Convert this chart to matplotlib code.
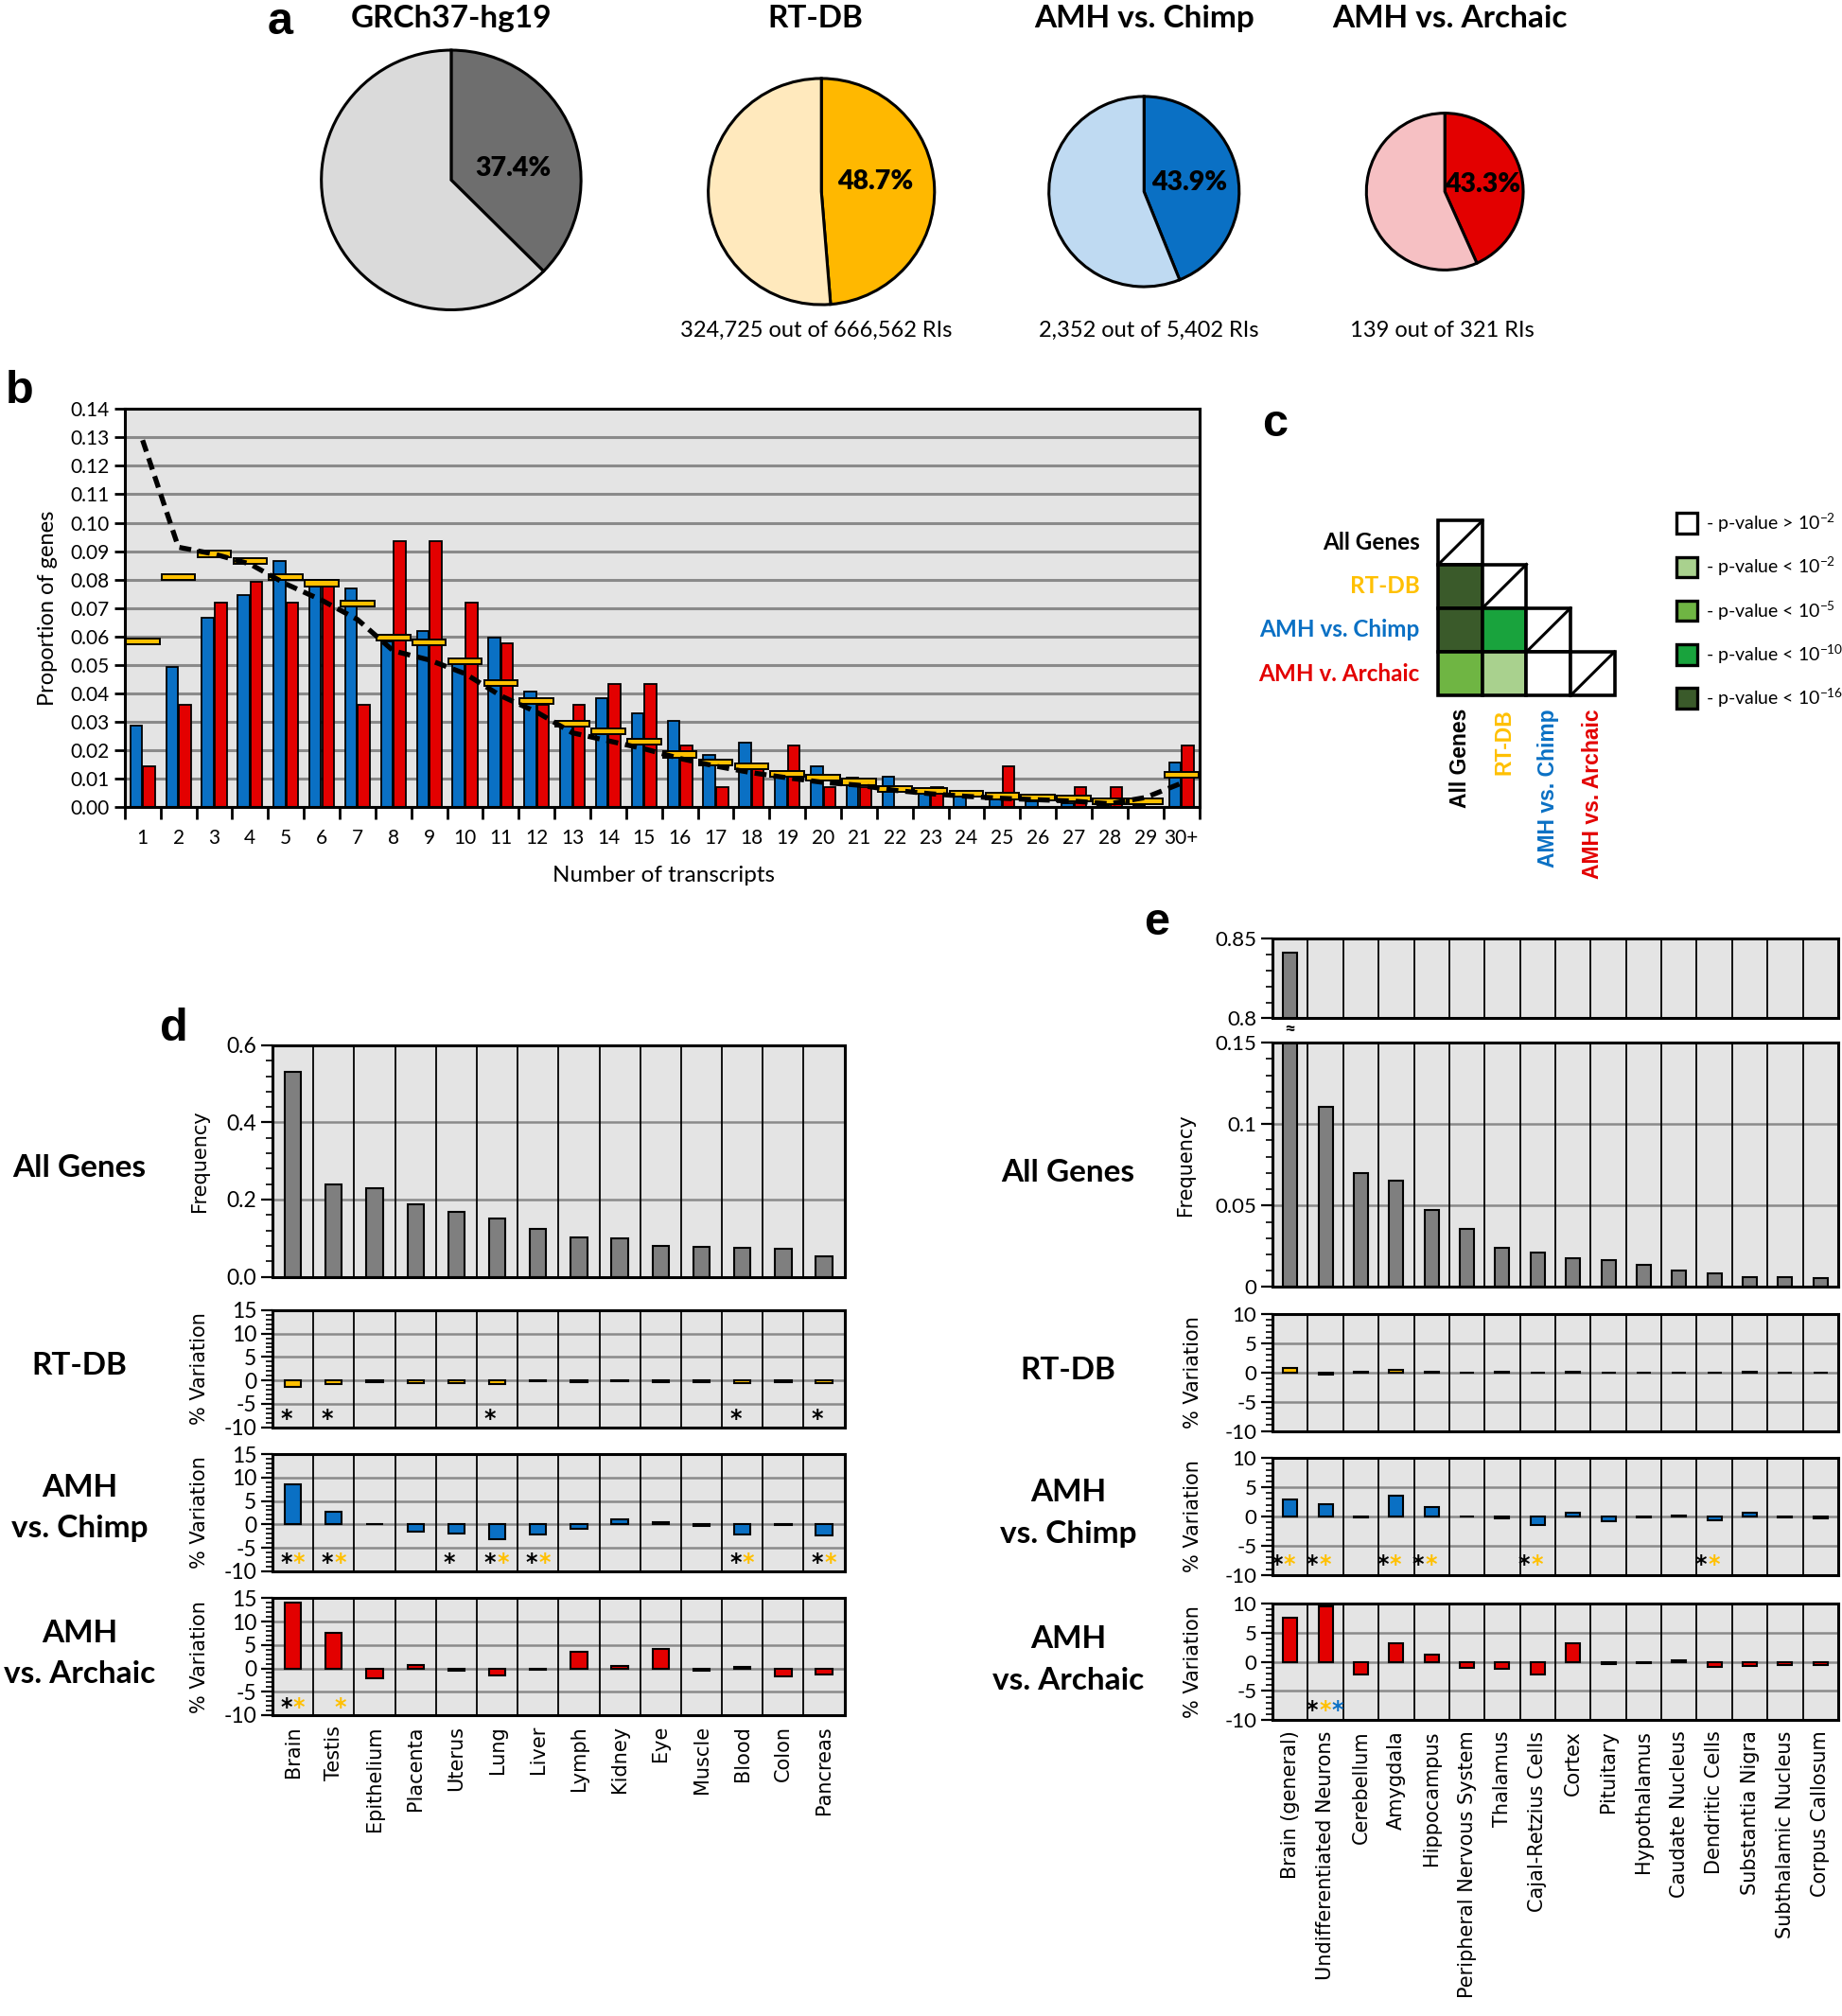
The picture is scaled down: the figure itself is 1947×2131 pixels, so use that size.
import matplotlib
matplotlib.use("Agg")
import matplotlib.pyplot as plt
import numpy as np
from matplotlib.patches import Rectangle
from matplotlib.ticker import FixedLocator, MultipleLocator

plt.rcParams['font.family'] = ['Lato', 'DejaVu Sans']
plt.rcParams['mathtext.default'] = 'regular'
plt.rcParams['axes.unicode_minus'] = False

# ---------------- data ----------------
# panel a
pie_titles = ['GRCh37-hg19', 'RT-DB', 'AMH vs. Chimp', 'AMH vs. Archaic']
pie_pct = [37.4, 48.7, 43.9, 43.3]
pie_notes = ['', '324,725 out of 666,562 RIs', '2,352 out of 5,402 RIs', '139 out of 321 RIs']

# panel b
n_transcripts = [str(i) for i in range(1, 30)] + ['30+']
all_genes_b = [0.129, 0.0914, 0.089, 0.0855, 0.0785, 0.0728, 0.0660, 0.0550, 0.0518, 0.0470,
               0.0392, 0.0335, 0.0262, 0.0234, 0.0206, 0.0172, 0.0145, 0.0122, 0.0104, 0.0088,
               0.0078, 0.0060, 0.0048, 0.0039, 0.0032, 0.0027, 0.0022, 0.0013, 0.0035, 0.0085]
rtdb_b = [0.0584, 0.0810, 0.0891, 0.0865, 0.0810, 0.0787, 0.0715, 0.0597, 0.0580, 0.0514,
          0.0438, 0.0374, 0.0294, 0.0267, 0.0230, 0.0186, 0.0158, 0.0145, 0.0117, 0.0105,
          0.0090, 0.0064, 0.0058, 0.0048, 0.0040, 0.0034, 0.0031, 0.0021, 0.0022, 0.0114]
chimp_b = [0.0286, 0.0494, 0.0665, 0.0746, 0.0867, 0.0780, 0.0769, 0.0583, 0.0620, 0.0505,
           0.0597, 0.0406, 0.0286, 0.0385, 0.0331, 0.0303, 0.0186, 0.0229, 0.0109, 0.0143,
           0.0103, 0.0109, 0.0050, 0.0040, 0.0027, 0.0020, 0.0015, 0.0007, 0.0007, 0.0158]
archaic_b = [0.0144, 0.0360, 0.0719, 0.0791, 0.0719, 0.0791, 0.0360, 0.0935, 0.0935, 0.0719,
             0.0576, 0.0360, 0.0360, 0.0432, 0.0432, 0.0216, 0.0072, 0.0144, 0.0216, 0.0072,
             0.0072, 0.0, 0.0072, 0.0, 0.0144, 0.0, 0.0072, 0.0072, 0.0, 0.0216]

# panel c
c_names_rows = ['All Genes', 'RT-DB', 'AMH vs. Chimp', 'AMH v. Archaic']
c_names_cols = ['All Genes', 'RT-DB', 'AMH vs. Chimp', 'AMH vs. Archaic']
c_levels = [[None],
            [4, None],
            [4, 3, None],
            [2, 1, 0, None]]
c_legend = ['- p-value > $10^{-2}$', '- p-value < $10^{-2}$', '- p-value < $10^{-5}$',
            '- p-value < $10^{-10}$', '- p-value < $10^{-16}$']

# panel d
d_tissues = ['Brain', 'Testis', 'Epithelium', 'Placenta', 'Uterus', 'Lung', 'Liver',
             'Lymph', 'Kidney', 'Eye', 'Muscle', 'Blood', 'Colon', 'Pancreas']
d_freq = [0.532, 0.239, 0.230, 0.187, 0.167, 0.152, 0.125, 0.102, 0.099, 0.080,
          0.077, 0.0755, 0.072, 0.053]
d_rtdb = [-1.4, -0.8, -0.4, -0.6, -0.5, -0.8, -0.1, -0.3, -0.2, -0.3, -0.3, -0.6, -0.3, -0.5]
d_chimp = [8.6, 2.7, 0.1, -1.5, -1.9, -3.2, -2.2, -1.0, 1.0, 0.4, -0.4, -2.2, -0.2, -2.4]
d_archaic = [14.0, 7.6, -2.1, 0.7, -0.6, -1.6, -0.4, 3.5, 0.5, 4.1, -0.6, 0.4, -1.8, -1.4]
d_rtdb_star_black = [0, 1, 5, 11, 13]
d_chimp_star_black = [0, 1, 4, 5, 6, 11, 13]
d_chimp_star_orange = [0, 1, 5, 6, 11, 13]
d_archaic_star_black = [0]
d_archaic_star_orange = [0, 1]

# panel e
e_regions = ['Brain (general)', 'Undifferentiated Neurons', 'Cerebellum', 'Amygdala',
             'Hippocampus', 'Peripheral Nervous System', 'Thalamus', 'Cajal-Retzius Cells',
             'Cortex', 'Pituitary', 'Hypothalamus', 'Caudate Nucleus', 'Dendritic Cells',
             'Substantia Nigra', 'Subthalamic Nucleus', 'Corpus Callosum']
e_freq = [0.841, 0.1108, 0.0699, 0.0652, 0.0472, 0.0355, 0.0239, 0.0212, 0.0179, 0.0167,
          0.0138, 0.0099, 0.0083, 0.0062, 0.0058, 0.0052]
e_rtdb = [0.7, -0.3, 0.1, 0.4, 0.1, -0.1, 0.1, -0.1, 0.05, -0.1, -0.1, -0.1, -0.1, 0.1, -0.05, -0.05]
e_chimp = [2.9, 2.1, -0.1, 3.5, 1.6, -0.05, -0.3, -1.4, 0.65, -0.75, -0.2, 0.2, -0.7, 0.6, -0.2, -0.3]
e_archaic = [7.5, 9.4, -2.1, 3.1, 1.3, -1.1, -1.2, -2.1, 3.1, -0.4, -0.2, 0.2, -0.8, -0.7, -0.6, -0.5]
e_chimp_star_black = [0, 1, 3, 4, 7, 12]
e_chimp_star_orange = [0, 1, 3, 4, 7, 12]
e_archaic_star_black = [1]
e_archaic_star_orange = [1]
e_archaic_star_blue = [1]

# ---------------- style ----------------
GREY_BG = '#e4e4e4'
BLUE = '#0a70c4'
RED = '#e30000'
ORANGE = '#ffc000'
DARKGREY = '#7f7f7f'
pie_dark = ['#6e6e6e', '#ffb800', BLUE, RED]
pie_light = ['#dadada', '#ffe9bd', '#bfdaf2', '#f6c0c3']
c_colors = ['white', '#a9d18e', '#6fb543', '#19a33d', '#3a5a2a']
ARIAL = 'Liberation Sans'

W, H = 1433.0, 1568.0  # layout units of the reference


def rect(l, t, r, b):
    return [l / W, 1 - b / H, (r - l) / W, (b - t) / H]


fig = plt.figure(figsize=(19.47, 21.31), dpi=100)


def ftext(x, y, s, **kw):
    fig.text(x / W, 1 - y / H, s, **kw)


# panel letters
for letter, (lx, ly) in zip('abcde', [(218, 17), (15, 304), (992, 330), (135, 800), (900, 718)]):
    ftext(lx, ly, letter, ha='center', va='center', fontsize=35, fontweight='bold',
          family=ARIAL)

# ---------------- a: pies ----------------
pie_geom = [(351, 140, 101), (639, 149, 88), (890, 149, 74), (1124, 149, 61)]
title_x = [351, 634, 890, 1128]
note_x = [0, 635, 894, 1122]
for k in range(4):
    cx, cy, r = pie_geom[k]
    ax = fig.add_axes(rect(cx - r, cy - r, cx + r, cy + r))
    ax.pie([pie_pct[k], 100 - pie_pct[k]], colors=[pie_dark[k], pie_light[k]],
           startangle=90, counterclock=False,
           wedgeprops=dict(edgecolor='black', linewidth=2.2, clip_on=False))
    ax.set_xlim(-1, 1)
    ax.set_ylim(-1, 1)
    ax.text(0.48, 0.09, f'{pie_pct[k]}%', ha='center', va='center', fontsize=20.5,
            fontweight='heavy')
    ftext(title_x[k], 14, pie_titles[k], ha='center', va='center', fontsize=24,
          fontweight='bold')
    if pie_notes[k]:
        ftext(note_x[k], 257, pie_notes[k], ha='center', va='center', fontsize=17)

# ---------------- b ----------------
axb = fig.add_axes(rect(97, 318, 933, 628))
xb = np.arange(len(n_transcripts))
axb.set_facecolor(GREY_BG)
axb.set_axisbelow(True)
axb.yaxis.grid(True, color='#8a8a8a', lw=2.2)
axb.bar(xb - 0.18, chimp_b, 0.33, color=BLUE, edgecolor='black', lw=1.3, zorder=2)
axb.bar(xb + 0.18, archaic_b, 0.33, color=RED, edgecolor='black', lw=1.3, zorder=2)
axb.bar(xb, 0.0021, 0.94, bottom=np.array(rtdb_b) - 0.00105, color=ORANGE,
        edgecolor='black', lw=1.4, zorder=3)
axb.plot(xb, all_genes_b, color='black', lw=3.8, ls=(0, (2.4, 1.4)), zorder=4)
axb.set_xlim(-0.5, len(n_transcripts) - 0.5)
axb.set_ylim(0, 0.14)
yt = np.round(np.arange(0, 0.1401, 0.01), 2)
axb.set_yticks(yt)
axb.set_yticklabels([f'{v:.2f}' for v in yt])
axb.set_xticks(xb)
axb.set_xticklabels(n_transcripts)
axb.set_xticks(np.arange(-0.5, len(n_transcripts)), minor=True)
axb.tick_params(axis='x', which='major', length=0, labelsize=15, pad=16)
axb.tick_params(axis='x', which='minor', length=9, width=2)
axb.tick_params(axis='y', length=8, width=2, labelsize=15, pad=4)
for s in axb.spines.values():
    s.set_linewidth(2.2)
ftext(516, 681, 'Number of transcripts', ha='center', va='center', fontsize=17.5)
ftext(37, 473, 'Proportion of genes', ha='center', va='center', rotation=90, fontsize=17)

# ---------------- c ----------------
axc = fig.add_axes(rect(1119, 405, 1256, 541))
axc.set_xlim(0, 4)
axc.set_ylim(4, 0)
axc.axis('off')
label_colors = ['black', ORANGE, BLUE, RED]
for i in range(4):
    for j in range(i + 1):
        lev = c_levels[i][j]
        fc = 'white' if lev is None else c_colors[lev]
        axc.add_patch(Rectangle((j, i), 1, 1, facecolor=fc, edgecolor='black', lw=2.6,
                                clip_on=False))
        if lev is None:
            axc.plot([j, j + 1], [i + 1, i], color='black', lw=2.2, clip_on=False)
    axc.text(-0.42, i + 0.5, c_names_rows[i], ha='right', va='center', fontsize=17.5,
             fontweight='bold', color=label_colors[i])
    axc.text(i + 0.5, 4.3, c_names_cols[i], ha='center', va='top', rotation=90,
             fontsize=16.5, fontweight='bold', color=label_colors[i], family=ARIAL)
for k in range(5):
    axc.add_patch(Rectangle((5.4, k + 0.06 - 0.235), 0.47, 0.47, facecolor=c_colors[k],
                            edgecolor='black', lw=2.4, clip_on=False))
    axc.text(6.07, k + 0.06, c_legend[k], ha='left', va='center', fontsize=14)


# ---------------- d / e helpers ----------------
def cat_axes(box, n, ylim, major, minor, labelsize):
    ax = fig.add_axes(rect(*box))
    ax.set_facecolor(GREY_BG)
    ax.set_axisbelow(True)
    ax.set_xlim(-0.5, n - 0.5)
    ax.set_ylim(*ylim)
    for bnd in np.arange(0.5, n - 0.5, 1):
        ax.axvline(bnd, color='black', lw=1.3, zorder=1)
    ax.yaxis.set_major_locator(FixedLocator(major))
    ax.yaxis.set_minor_locator(MultipleLocator(minor))
    ax.yaxis.grid(True, which='major', color='#8a8a8a', lw=1.8)
    ax.tick_params(axis='y', which='major', direction='out', length=9, width=1.6,
                   labelsize=labelsize, pad=3)
    ax.tick_params(axis='y', which='minor', direction='out', length=5, width=1.2)
    ax.tick_params(axis='x', length=0, labelbottom=False)
    for s in ax.spines.values():
        s.set_linewidth(2.2)
    return ax


def stars(ax, idx, dx, color, y=-8.3):
    for i in idx:
        ax.text(i + dx, y, '*', ha='center', va='center', fontsize=17, fontweight='bold',
                color=color, family='DejaVu Sans')


def bars(ax, vals, color):
    ax.bar(np.arange(len(vals)), vals, 0.4, color=color, edgecolor='black', lw=1.5,
           zorder=2)


# ---------------- d ----------------
nd = len(d_tissues)
L_D, R_D = 212, 657
ax = cat_axes((L_D, 813, R_D, 993), nd, (0, 0.6), [0, 0.2, 0.4, 0.6], 0.04, 16.5)
ax.set_yticklabels(['0.0', '0.2', '0.4', '0.6'])
bars(ax, d_freq, DARKGREY)
ftext(155, 903, 'Frequency', rotation=90, ha='center', va='center', fontsize=15,
      family='DejaVu Sans')

var_major_d = [-10, -5, 0, 5, 10, 15]
d_rows = [(1019, 1110, d_rtdb, ORANGE), (1131, 1222, d_chimp, BLUE),
          (1243, 1334, d_archaic, RED)]
d_axes = []
for top, bot, vals, col in d_rows:
    a = cat_axes((L_D, top, R_D, bot), nd, (-10, 15), var_major_d, 1, 16.5)
    bars(a, vals, col)
    ftext(155, (top + bot) / 2, '% Variation', rotation=90, ha='center', va='center',
          fontsize=15, family='DejaVu Sans')
    d_axes.append(a)
stars(d_axes[0], d_rtdb_star_black, -0.17, 'black')
stars(d_axes[1], d_chimp_star_black, -0.17, 'black')
stars(d_axes[1], d_chimp_star_orange, 0.15, ORANGE)
stars(d_axes[2], d_archaic_star_black, -0.17, 'black')
stars(d_axes[2], d_archaic_star_orange, 0.15, ORANGE)
d_axes[2].set_xticks(np.arange(nd))
d_axes[2].set_xticklabels(d_tissues, rotation=90, family='DejaVu Sans', fontsize=15)
d_axes[2].tick_params(axis='x', labelbottom=True, pad=8)

for txt, y in [('All Genes', 908), ('RT-DB', 1062), ('AMH\nvs. Chimp', 1173),
               ('AMH\nvs. Archaic', 1286)]:
    ftext(62, y, txt, ha='center', va='center', fontsize=24, fontweight='bold',
          linespacing=1.6)

# ---------------- e ----------------
ne = len(e_regions)
L_E, R_E = 990, 1430
ax_top = cat_axes((L_E, 730, R_E, 792), ne, (0.8, 0.85), [0.8, 0.85], 0.01, 16)
ax_top.set_yticklabels(['0.8', '0.85'])
ax_top.yaxis.grid(False)
bars(ax_top, e_freq, DARKGREY)

ax_main = cat_axes((L_E, 811, R_E, 1001), ne, (0, 0.15), [0, 0.05, 0.1, 0.15], 0.01, 16)
ax_main.set_yticklabels(['0', '0.05', '0.1', '0.15'])
bars(ax_main, e_freq, DARKGREY)
ax_main.text(0, 0.1585, '\u2248', ha='center', va='center', fontsize=15,
             fontweight='bold', clip_on=False)
ftext(922, 906, 'Frequency', rotation=90, ha='center', va='center', fontsize=15,
      family='DejaVu Sans')

var_major_e = [-10, -5, 0, 5, 10]
e_rows = [(1022, 1113, e_rtdb, ORANGE), (1134, 1225, e_chimp, BLUE),
          (1247, 1338, e_archaic, RED)]
e_axes = []
for top, bot, vals, col in e_rows:
    a = cat_axes((L_E, top, R_E, bot), ne, (-10, 10), var_major_e, 1, 16)
    bars(a, vals, col)
    ftext(928, (top + bot) / 2, '% Variation', rotation=90, ha='center', va='center',
          fontsize=15, family='DejaVu Sans')
    e_axes.append(a)
stars(e_axes[1], e_chimp_star_black, -0.38, 'black')
stars(e_axes[1], e_chimp_star_orange, -0.02, ORANGE)
stars(e_axes[2], e_archaic_star_black, -0.38, 'black')
stars(e_axes[2], e_archaic_star_orange, -0.02, ORANGE)
stars(e_axes[2], e_archaic_star_blue, 0.35, BLUE)
e_axes[2].set_xticks(np.arange(ne))
e_axes[2].set_xticklabels(e_regions, rotation=90, family='DejaVu Sans', fontsize=15)
e_axes[2].tick_params(axis='x', labelbottom=True, pad=8)

for txt, y in [('All Genes', 912), ('RT-DB', 1066), ('AMH\nvs. Chimp', 1177),
               ('AMH\nvs. Archaic', 1291)]:
    ftext(831, y, txt, ha='center', va='center', fontsize=24, fontweight='bold',
          linespacing=1.6)

fig.savefig('out.png', dpi=100)
